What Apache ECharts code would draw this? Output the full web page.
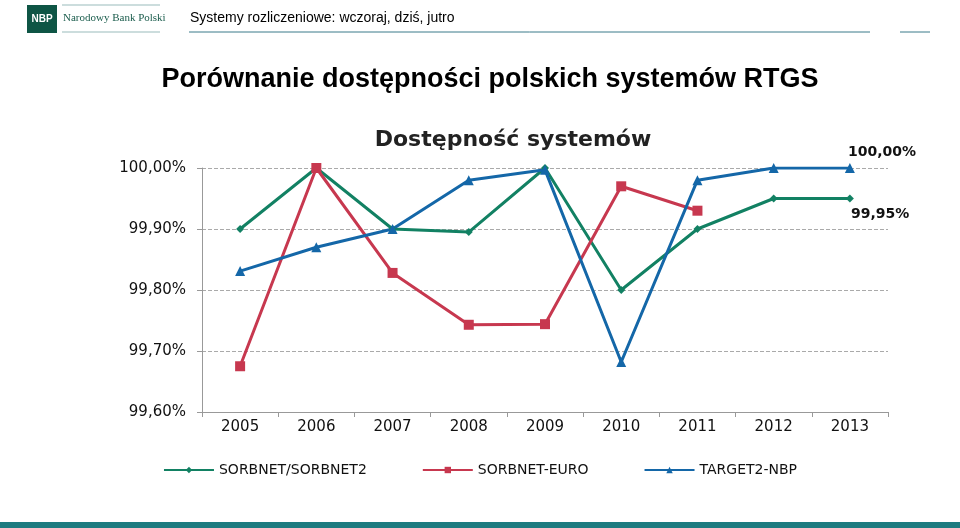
<!DOCTYPE html>
<html><head><meta charset="utf-8">
<script src="https://cdn.jsdelivr.net/npm/echarts@6/dist/echarts.min.js"></script>
<style>html,body{margin:0;padding:0;background:#fff}#c{width:960px;height:528px}</style>
</head><body><div id="c"></div>
<script>
const categories=['2005','2006','2007','2008','2009','2010','2011','2012','2013'];
const sorbnet=[99.90,100,99.90,99.895,100,99.80,99.90,99.95,99.95];
const sorbnetEuro=[99.675,100,99.828,99.743,99.744,99.97,99.93,null,null];
const target2=[99.831,99.87,99.90,99.98,99.997,99.682,99.98,100,100];
const seriesNames=['SORBNET/SORBNET2','SORBNET-EURO','TARGET2-NBP'];
const chart=echarts.init(document.getElementById('c'));
const F='Liberation Sans, Arial, sans-serif';
const D='DejaVu Sans, sans-serif';
const fmt=v=>v.toFixed(2).replace('.',',')+'%';
chart.setOption({
  animation:false,
  title:[{text:'Porównanie dostępności polskich systemów RTGS',left:485,top:61,textAlign:'center',textStyle:{fontFamily:F,fontSize:27,fontWeight:'bold',color:'#000'}},
         {text:'Dostępność systemów',left:508,top:124,textAlign:'center',textStyle:{fontFamily:D,fontSize:22,fontWeight:'bold',color:'#222'}}],
  graphic:[
    {type:'rect',shape:{x:27,y:5,width:30,height:28},style:{fill:'#0e5545'}},
    {type:'text',style:{x:42,y:19,text:'NBP',fill:'#fff',font:'bold 10px '+F,align:'center',verticalAlign:'middle'}},
    {type:'text',style:{x:63,y:18,text:'Narodowy Bank Polski',fill:'#1a5c4c',font:'11px Liberation Serif, serif',verticalAlign:'middle'}},
    {type:'line',shape:{x1:62,y1:5,x2:160,y2:5},style:{stroke:'#9bb',lineWidth:1}},
    {type:'line',shape:{x1:62,y1:32,x2:160,y2:32},style:{stroke:'#9bb',lineWidth:1}},
    {type:'text',style:{x:190,y:18,text:'Systemy rozliczeniowe: wczoraj, dziś, jutro',fill:'#000',font:'14px '+F,verticalAlign:'middle'}},
    {type:'line',shape:{x1:189,y1:32,x2:870,y2:32},style:{stroke:'#3a7a8a',lineWidth:1}},
    {type:'line',shape:{x1:900,y1:32,x2:930,y2:32},style:{stroke:'#3a7a8a',lineWidth:1}},
    {type:'rect',shape:{x:0,y:522,width:960,height:6},style:{fill:'#1d7b80'}},
    {type:'text',style:{x:848,y:152,text:'100,00%',fill:'#111',font:'bold 14px '+D,verticalAlign:'middle'}},
    {type:'text',style:{x:851,y:214,text:'99,95%',fill:'#111',font:'bold 14px '+D,verticalAlign:'middle'}}
  ],
  grid:{left:202,right:72,top:168,bottom:116},
  legend:{top:458,left:'center',itemGap:55,itemWidth:50,itemHeight:8,textStyle:{fontFamily:D,fontSize:14,color:'#111'},data:seriesNames},
  xAxis:{type:'category',data:categories,boundaryGap:true,
    axisLine:{lineStyle:{color:'#999'}},axisTick:{show:true,interval:0,lineStyle:{color:'#999'}},
    axisLabel:{fontFamily:D,fontSize:15,color:'#111',margin:8}},
  yAxis:{type:'value',min:99.6,max:100,interval:0.1,
    axisLine:{show:true,lineStyle:{color:'#999'}},axisTick:{show:true,lineStyle:{color:'#999'}},
    splitLine:{lineStyle:{color:'#aaa',type:'dashed'}},
    axisLabel:{fontFamily:D,fontSize:15,color:'#111',formatter:fmt,margin:16}},
  series:[
    {name:seriesNames[0],type:'line',data:sorbnet,symbol:'diamond',symbolSize:8,itemStyle:{color:'#128163'},lineStyle:{width:3}},
    {name:seriesNames[1],type:'line',data:sorbnetEuro,symbol:'rect',symbolSize:10,itemStyle:{color:'#c7384f'},lineStyle:{width:3}},
    {name:seriesNames[2],type:'line',data:target2,symbol:'triangle',symbolSize:10,itemStyle:{color:'#1467a8'},lineStyle:{width:3}}
  ]
});
</script></body></html>
